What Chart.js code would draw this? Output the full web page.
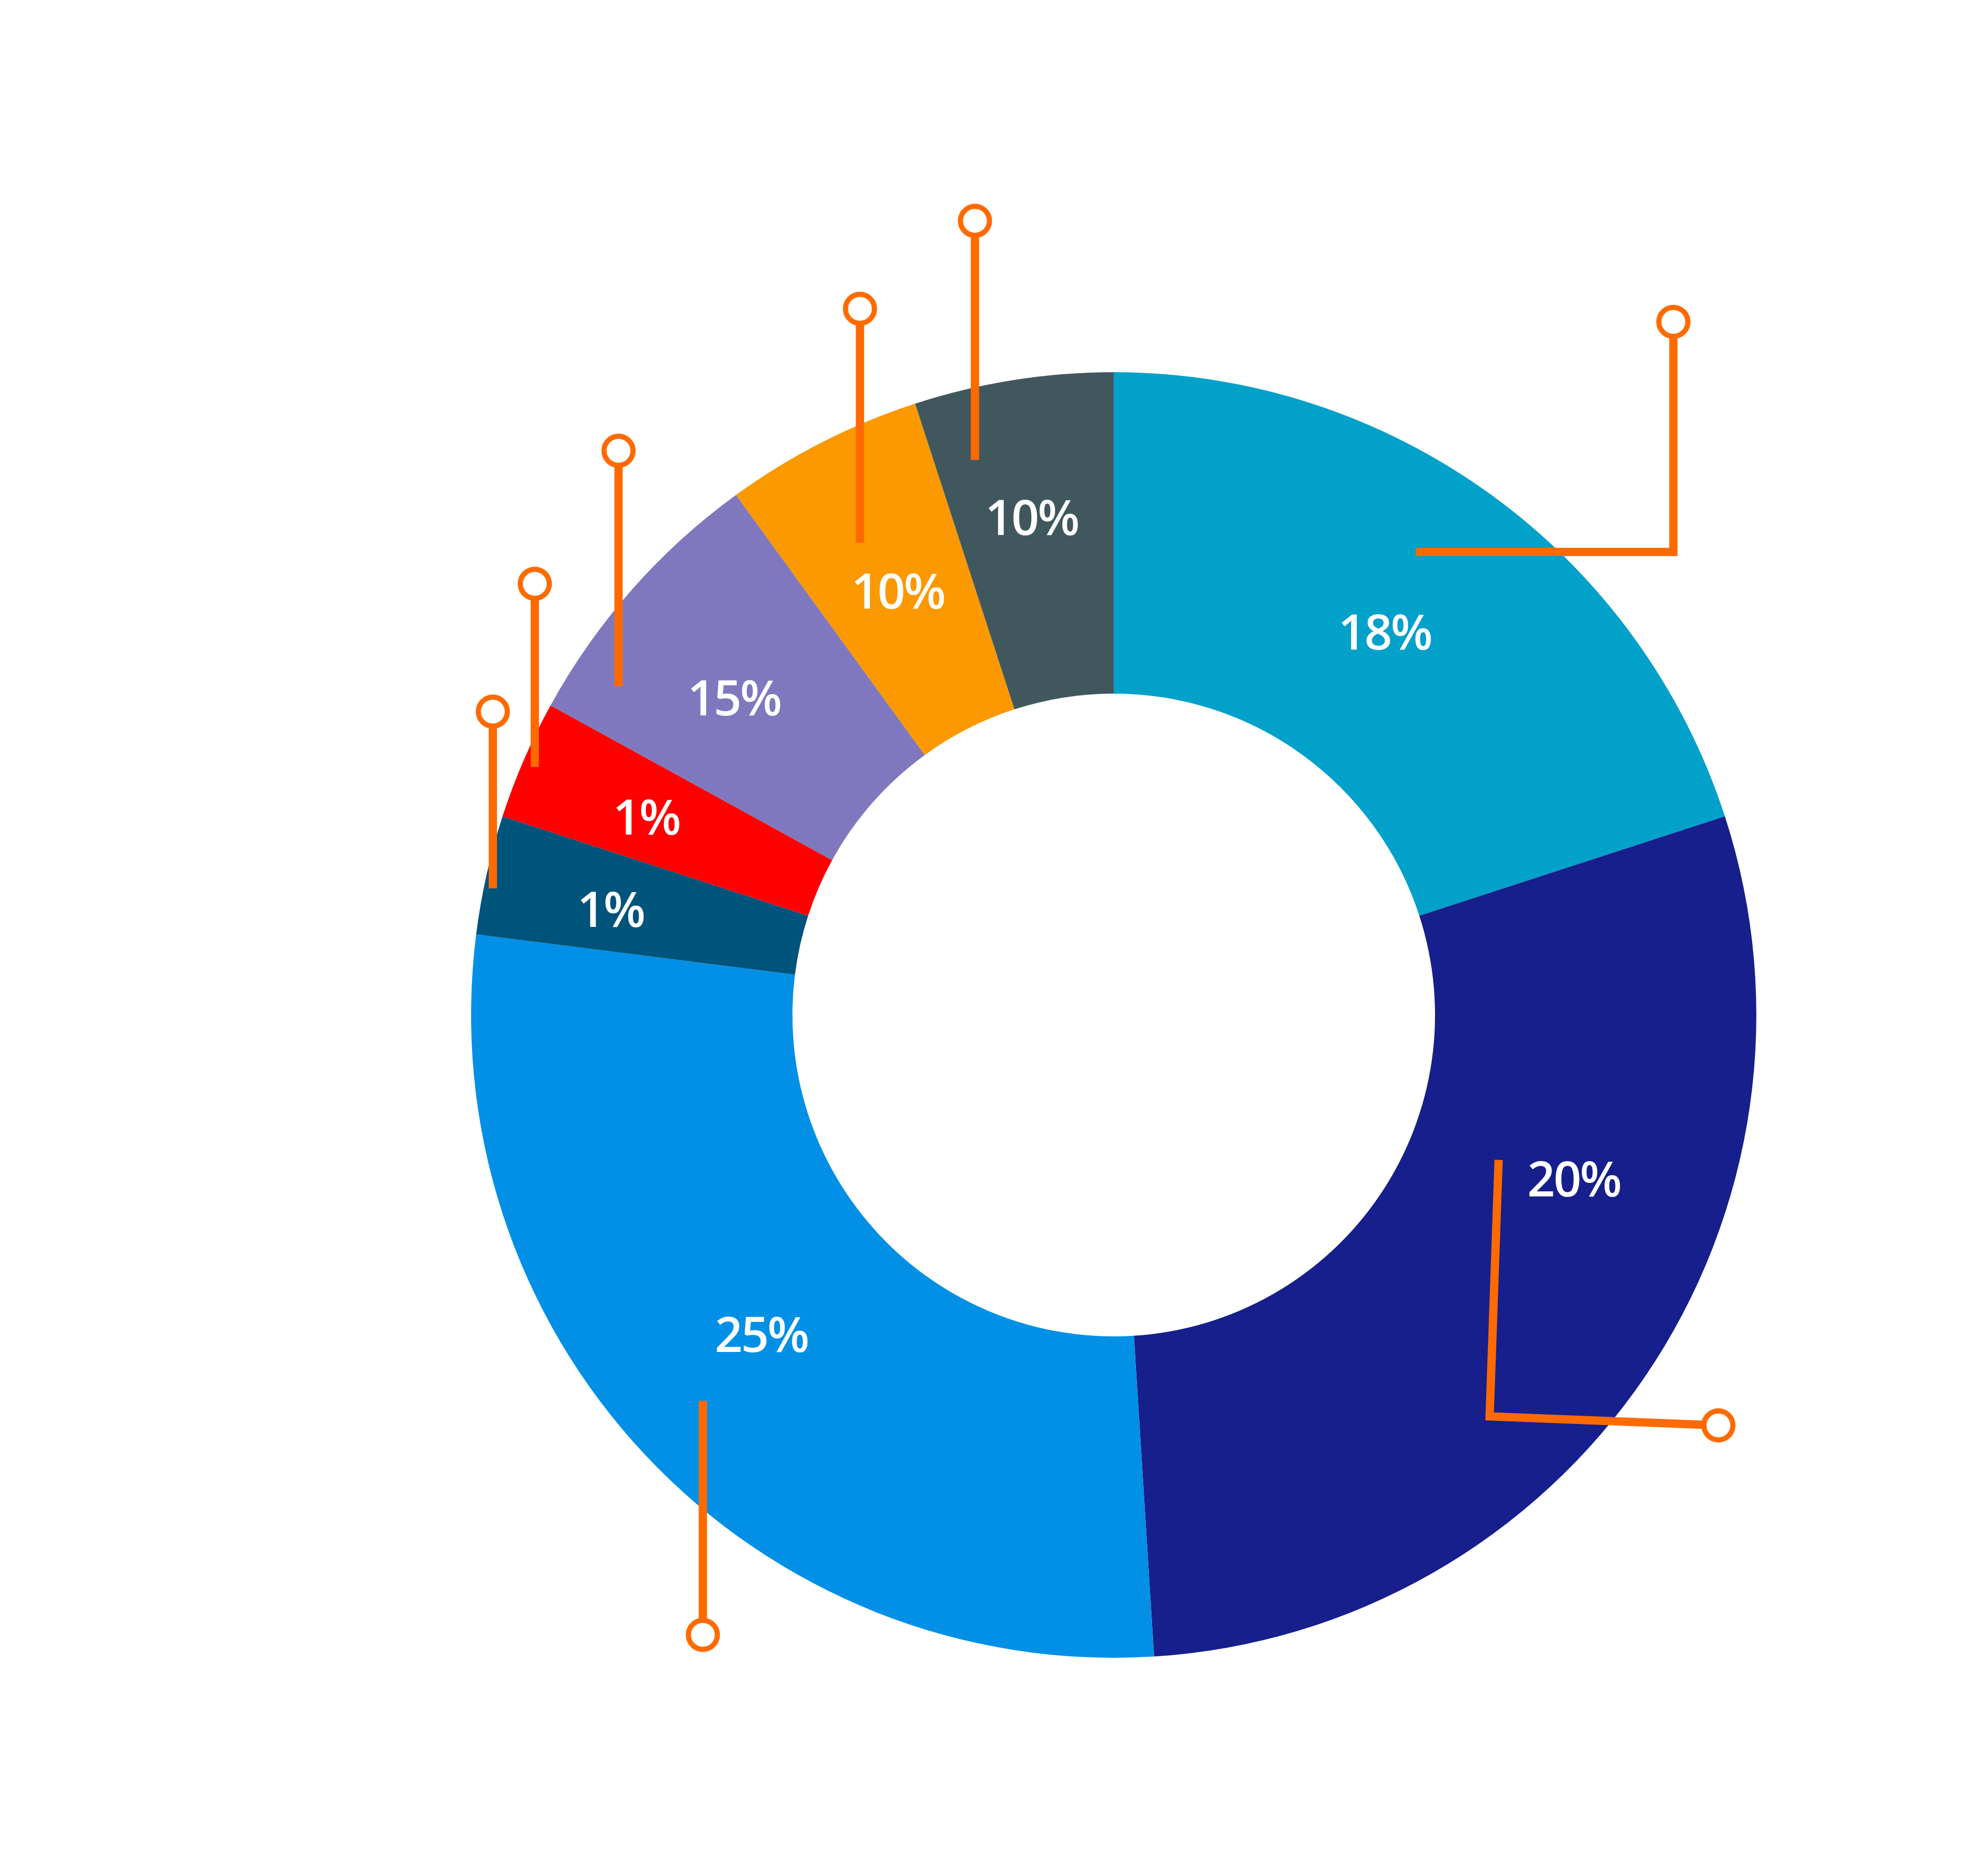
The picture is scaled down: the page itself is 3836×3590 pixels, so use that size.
<!DOCTYPE html>
<html>
<head>
<meta charset="utf-8">
<script src="https://cdn.jsdelivr.net/npm/chart.js@4"></script>
<style>
html, body { margin: 0; padding: 0; background: #fff; }
#wrap { width: 3836px; height: 3590px; }
</style>
</head>
<body>
<div id="wrap"><canvas id="donut" width="3836" height="3590"></canvas></div>
<script>
const segmentLabels = ["18%", "20%", "25%", "1%", "1%", "15%", "10%", "10%"];
const segmentValues = [20, 29, 28, 3, 3, 7, 5, 5];
const segmentColors = ["#01a1ca", "#161f8b", "#0290e6", "#00537a", "#ff0000", "#8078be", "#fc9800", "#41575e"];

// where each label sits along its slice (fraction of the slice angle, fraction of outer radius)
const labelSpots = [[0.49, 0.73], [0.36, 0.76], [0.51, 0.74], [0.43, 0.80], [0.46, 0.79], [0.44, 0.77], [0.50, 0.74], [0.48, 0.785]];

// orange pins: start inside the slice, then move in outer-radius units, end in a ring
const callouts = [
    {t: 0.46, r: 0.86, path: [[0.401, 0], [0, -0.358]]},
    {t: 0.37, r: 0.64, path: [[-0.014, 0.399], [0.356, 0.014]]},
    {t: 0.50, r: 0.877, path: [[0, 0.364]]},
    {t: 0.40, r: 0.986, path: [[0, -0.275]]},
    {t: 0.48, r: 0.98, path: [[0, -0.285]]},
    {t: 0.19, r: 0.925, path: [[0, -0.366]]},
    {t: 0.43, r: 0.834, path: [[0, -0.364]]},
    {t: 0.22, r: 0.89, path: [[0, -0.372]]}
];

const sliceText = {
    id: "sliceText",
    afterDatasetsDraw(chart) {
        const ctx = chart.ctx;
        const arcs = chart.getDatasetMeta(0).data;
        ctx.save();
        ctx.fillStyle = "#ffffff";
        ctx.font = "600 94px 'Open Sans'";
        ctx.textAlign = "center";
        ctx.textBaseline = "alphabetic";
        if ("letterSpacing" in ctx) ctx.letterSpacing = "-3px";
        arcs.forEach((arc, i) => {
            const p = arc.getProps(["x", "y", "startAngle", "endAngle", "outerRadius"], true);
            const a = p.startAngle + labelSpots[i][0] * (p.endAngle - p.startAngle);
            const r = labelSpots[i][1] * p.outerRadius;
            ctx.fillText(segmentLabels[i], p.x + Math.cos(a) * r, p.y + Math.sin(a) * r + 34);
        });
        ctx.restore();
    }
};

const pins = {
    id: "pins",
    afterDraw(chart) {
        const ctx = chart.ctx;
        const arcs = chart.getDatasetMeta(0).data;
        const ringR = 28;
        ctx.save();
        ctx.strokeStyle = "#ff6a00";
        ctx.lineCap = "butt";
        ctx.lineJoin = "miter";
        callouts.forEach((c, i) => {
            const p = arcs[i].getProps(["x", "y", "startAngle", "endAngle", "outerRadius"], true);
            const R = p.outerRadius;
            const a = p.startAngle + c.t * (p.endAngle - p.startAngle);
            const pts = [[p.x + Math.cos(a) * c.r * R, p.y + Math.sin(a) * c.r * R]];
            c.path.forEach(step => {
                const last = pts[pts.length - 1];
                pts.push([last[0] + step[0] * R, last[1] + step[1] * R]);
            });
            const end = pts[pts.length - 1];
            const prev = pts[pts.length - 2];
            const len = Math.hypot(end[0] - prev[0], end[1] - prev[1]);
            const edge = [end[0] - (end[0] - prev[0]) / len * ringR, end[1] - (end[1] - prev[1]) / len * ringR];

            ctx.lineWidth = 16;
            ctx.beginPath();
            ctx.moveTo(pts[0][0], pts[0][1]);
            for (let k = 1; k < pts.length - 1; k++) ctx.lineTo(pts[k][0], pts[k][1]);
            ctx.lineTo(edge[0], edge[1]);
            ctx.stroke();

            ctx.lineWidth = 10;
            ctx.fillStyle = "#ffffff";
            ctx.beginPath();
            ctx.arc(end[0], end[1], ringR, 0, Math.PI * 2);
            ctx.fill();
            ctx.stroke();
        });
        ctx.restore();
    }
};

new Chart(document.getElementById("donut"), {
    type: "doughnut",
    data: {
        labels: segmentLabels,
        datasets: [{
            data: segmentValues,
            backgroundColor: segmentColors,
            borderWidth: 0,
            hoverOffset: 0
        }]
    },
    options: {
        responsive: false,
        animation: false,
        cutout: "50%",
        layout: {
            padding: {left: 909, right: 447, top: 718, bottom: 392}
        },
        plugins: {
            legend: {display: false},
            tooltip: {enabled: false}
        }
    },
    plugins: [sliceText, pins]
});
</script>
</body>
</html>
